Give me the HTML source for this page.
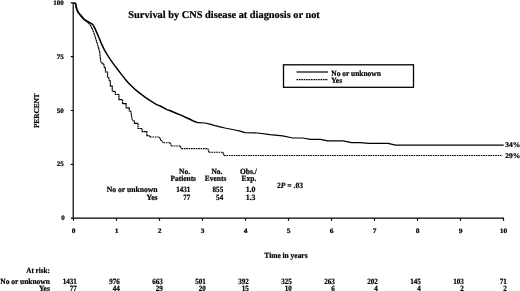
<!DOCTYPE html>
<html><head><meta charset="utf-8">
<style>
html,body{margin:0;padding:0;background:#fff;}
body{width:520px;height:291px;overflow:hidden;position:relative;}
svg{position:absolute;left:0;top:0;will-change:transform;}
text{font-family:"Liberation Serif",serif;font-weight:bold;fill:#000;stroke:#000;stroke-width:0.22px;text-rendering:geometricPrecision;}
</style></head><body>
<svg width="520" height="291" viewBox="0 0 520 291">
<g stroke="#000" stroke-width="1.2" fill="none">
<path d="M73.2 2.9V218.2H504.0"/>
<path d="M70.8 2.9H73.2M70.8 56.7H73.2M70.8 110.5H73.2M70.8 164.4H73.2M70.8 218.2H73.2"/>
<path d="M73.5 218.2V220.8M116.5 218.2V220.8M159.5 218.2V220.8M202.5 218.2V220.8M245.5 218.2V220.8M288.5 218.2V220.8M331.5 218.2V220.8M374.5 218.2V220.8M417.5 218.2V220.8M460.5 218.2V220.8M503.5 218.2V220.8"/>
</g>
<path fill="none" stroke="#000" stroke-width="1.5" stroke-linejoin="round" d="M73.5 2.9 L75.6 3.4 L76.3 6.5 L77 9.3 L78.4 12.4 L81 15.5 L84 19 L87.2 21.2 L89.1 22.2 L92.6 24.4 L94.7 27.9 L96.9 32.9 L99 37.7 L101.5 43.9 L104.3 49.6 L107 54.4 L110.4 59.6 L114 64.6 L117.5 69.3 L121 73.9 L124.6 78.4 L128 82.4 L131.5 86 L136 90.2 L140 93.4 L146 97.8 L150.2 100.7 L156.6 104.6 L160.3 106 L166.9 109.6 L170.3 110.7 L177.3 113.8 L180.3 114.9 L187.6 118.2 L190.4 119.5 L194 121.3 L197.8 122.6"/>
<path fill="none" stroke="#000" stroke-width="1.2" stroke-linejoin="round" d="M197.8 122.6 L205 123 L210 124.2 L215 125.6 L220 126.8 L225 128 L230 129 L235 130 L240 131.2 L245 132.6 L257.6 133 L270 134.6 L282.7 135.9 L292.7 138 L302.7 138 L310.3 139.4 L320.3 139.4 L327.8 140.9 L342.9 140.9 L351.7 142.6 L360 142.6 L369 143.3 L388 143.3 L395.6 145.1 L503.7 145.1"/>
<path fill="none" stroke="#000" stroke-width="1.2" stroke-dasharray="1.8 0.4" d="M73.5 2.9L75.6 3.4M75.6 3.4L75.9 6.9M75.9 6.9L76.6 9.7M76.6 9.7L78.0 12.8M78.0 12.8L80.6 15.9M80.6 15.9L83.6 19.4M83.6 19.4L86.8 21.6M86.8 21.6L88.2 22.8M88.2 22.8L90.1 24.9M90.1 24.9L92.1 28.4M92.1 28.4L93.9 33.1M93.9 33.1L95.5 37.9M95.5 37.9L97 42.7M97 42.7L98.6 48M98.6 48L99.7 52M99.7 52L100.3 58.3M100.3 58.3L101 63M101 63H102.4V63.8H103.8M103.8 63.8L104.4 67.9M104.4 67.9H105.45V72H106.5M106.5 72H107.55V77.5H108.6M108.6 77.5L109.5 81M109.5 81H110.35V86.2H111.2M111.2 86.2H112.25V91.4H113.3M113.3 91.4H115.35V94.5H117.4M117.4 94.5H118.95V99.6H120.5M120.5 99.6H122.55V103.7H124.6M124.6 103.7H126.15V107.9H127.7M127.7 107.9H129.25V111H130.8M130.8 111L131.8 118.2M131.8 118.2L133 121M133 121H134.5V123.4H136M136 123.4H138.05V128.5H140.1M140.1 128.5H142.15V131.6H144.2M144.2 131.6H146.8V135.7H149.4M149.4 135.7L150 137M159.5 137L160.7 139.9M160.7 139.9L163.5 142.7M170 142.7L171.4 145.9M180 145.9L181.4 148.6M207.8 148.6L209 152.2M222.8 152.2L224 155.5"/>
<path fill="none" stroke="#000" stroke-width="1.05" stroke-dasharray="1.65 0.75" d="M150 137L159.5 137M163.5 142.7L170 142.7M171.4 145.9L180 145.9M181.4 148.6L207.8 148.6M209 152.2L222.8 152.2M224 155.5L501.5 155.5"/>
<text x="128.3" y="17.7" font-size="10.35">Survival by CNS disease at diagnosis or not</text>
<text transform="translate(63.8,5.0) scale(1.03,1)" font-size="6.8" text-anchor="end" >100</text>
<text transform="translate(63.8,58.824999999999996) scale(1.03,1)" font-size="6.8" text-anchor="end" >75</text>
<text transform="translate(63.8,112.64999999999999) scale(1.03,1)" font-size="6.8" text-anchor="end" >50</text>
<text transform="translate(63.8,166.475) scale(1.03,1)" font-size="6.8" text-anchor="end" >25</text>
<text transform="translate(64.8,220.29999999999998) scale(1.03,1)" font-size="6.8" text-anchor="end" >0</text>
<text transform="translate(39.4,128.1) rotate(-90) scale(0.96,1)" font-size="7.6">PERCENT</text>
<text transform="translate(73.5,232.8) scale(1.1,1)" font-size="6.8" text-anchor="middle" >0</text>
<text transform="translate(116.5,232.8) scale(1.1,1)" font-size="6.8" text-anchor="middle" >1</text>
<text transform="translate(159.5,232.8) scale(1.1,1)" font-size="6.8" text-anchor="middle" >2</text>
<text transform="translate(202.5,232.8) scale(1.1,1)" font-size="6.8" text-anchor="middle" >3</text>
<text transform="translate(245.5,232.8) scale(1.1,1)" font-size="6.8" text-anchor="middle" >4</text>
<text transform="translate(288.5,232.8) scale(1.1,1)" font-size="6.8" text-anchor="middle" >5</text>
<text transform="translate(331.5,232.8) scale(1.1,1)" font-size="6.8" text-anchor="middle" >6</text>
<text transform="translate(374.5,232.8) scale(1.1,1)" font-size="6.8" text-anchor="middle" >7</text>
<text transform="translate(417.5,232.8) scale(1.1,1)" font-size="6.8" text-anchor="middle" >8</text>
<text transform="translate(460.5,232.8) scale(1.1,1)" font-size="6.8" text-anchor="middle" >9</text>
<text transform="translate(503.5,232.8) scale(1.1,1)" font-size="6.8" text-anchor="middle" >10</text>
<text transform="translate(264.3,257.7) scale(0.93,1)" font-size="8.0" text-anchor="start" >Time in years</text>
<rect x="283.5" y="64.8" width="130" height="22.5" fill="none" stroke="#000" stroke-width="1.3"/>
<path d="M296.5 72H328" stroke="#000" stroke-width="1.2"/>
<path d="M296.5 79.6H328" stroke="#000" stroke-width="1.05" stroke-dasharray="1.65 0.75"/>
<text transform="translate(331.3,75.6) scale(0.93,1)" font-size="8.0" text-anchor="start" >No or unknown</text>
<text transform="translate(331.3,83) scale(0.93,1)" font-size="8.0" text-anchor="start" >Yes</text>
<text transform="translate(505.3,147.4) scale(1.06,1)" font-size="7.1" text-anchor="start" >34%</text>
<text transform="translate(505.3,157.7) scale(1.06,1)" font-size="7.1" text-anchor="start" >29%</text>
<text transform="translate(184.6,173.8) scale(0.93,1)" font-size="8.0" text-anchor="middle" >No.</text>
<text transform="translate(183.2,180.8) scale(0.93,1)" font-size="8.0" text-anchor="middle" >Patients</text>
<text transform="translate(216.9,173.8) scale(0.93,1)" font-size="8.0" text-anchor="middle" >No.</text>
<text transform="translate(215.6,180.8) scale(0.93,1)" font-size="8.0" text-anchor="middle" >Events</text>
<text transform="translate(248.4,173.8) scale(0.93,1)" font-size="8.0" text-anchor="middle" >Obs./</text>
<text transform="translate(248.9,180.8) scale(0.93,1)" font-size="8.0" text-anchor="middle" >Exp.</text>
<text transform="translate(190.4,192.4) scale(0.885,1)" font-size="8.0" text-anchor="end" >1431</text>
<text transform="translate(190.4,200) scale(0.885,1)" font-size="8.0" text-anchor="end" >77</text>
<text transform="translate(223.2,192.4) scale(0.885,1)" font-size="8.0" text-anchor="end" >855</text>
<text transform="translate(223.2,200) scale(0.885,1)" font-size="8.0" text-anchor="end" >54</text>
<text transform="translate(255.5,192.4) scale(0.98,1)" font-size="8.0" text-anchor="end" >1.0</text>
<text transform="translate(255.5,200) scale(0.98,1)" font-size="8.0" text-anchor="end" >1.3</text>
<text transform="translate(157.6,192.4) scale(0.955,1)" font-size="8.0" text-anchor="end" >No or unknown</text>
<text transform="translate(157.6,200) scale(0.96,1)" font-size="8.0" text-anchor="end" >Yes</text>
<text transform="translate(277,188.2) scale(0.945,1)" font-size="8.0" text-anchor="start" >2<tspan font-style="italic">P</tspan> = .03</text>
<text transform="translate(49.8,272.5) scale(0.89,1)" font-size="8.0" text-anchor="end" >At risk:</text>
<text transform="translate(49.8,283.7) scale(0.93,1)" font-size="8.0" text-anchor="end" >No or unknown</text>
<text transform="translate(49.8,291.2) scale(0.93,1)" font-size="8.0" text-anchor="end" >Yes</text>
<text transform="translate(76.9,283.7) scale(0.885,1)" font-size="8.0" text-anchor="end" >1431</text>
<text transform="translate(76.9,291.2) scale(0.885,1)" font-size="8.0" text-anchor="end" >77</text>
<text transform="translate(119.9,283.7) scale(0.885,1)" font-size="8.0" text-anchor="end" >976</text>
<text transform="translate(119.9,291.2) scale(0.885,1)" font-size="8.0" text-anchor="end" >44</text>
<text transform="translate(162.9,283.7) scale(0.885,1)" font-size="8.0" text-anchor="end" >663</text>
<text transform="translate(162.9,291.2) scale(0.885,1)" font-size="8.0" text-anchor="end" >29</text>
<text transform="translate(205.9,283.7) scale(0.885,1)" font-size="8.0" text-anchor="end" >501</text>
<text transform="translate(205.9,291.2) scale(0.885,1)" font-size="8.0" text-anchor="end" >20</text>
<text transform="translate(248.9,283.7) scale(0.885,1)" font-size="8.0" text-anchor="end" >392</text>
<text transform="translate(248.9,291.2) scale(0.885,1)" font-size="8.0" text-anchor="end" >15</text>
<text transform="translate(291.9,283.7) scale(0.885,1)" font-size="8.0" text-anchor="end" >325</text>
<text transform="translate(291.9,291.2) scale(0.885,1)" font-size="8.0" text-anchor="end" >10</text>
<text transform="translate(334.9,283.7) scale(0.885,1)" font-size="8.0" text-anchor="end" >263</text>
<text transform="translate(334.9,291.2) scale(0.885,1)" font-size="8.0" text-anchor="end" >6</text>
<text transform="translate(377.9,283.7) scale(0.885,1)" font-size="8.0" text-anchor="end" >202</text>
<text transform="translate(377.9,291.2) scale(0.885,1)" font-size="8.0" text-anchor="end" >4</text>
<text transform="translate(420.9,283.7) scale(0.885,1)" font-size="8.0" text-anchor="end" >145</text>
<text transform="translate(420.9,291.2) scale(0.885,1)" font-size="8.0" text-anchor="end" >4</text>
<text transform="translate(463.9,283.7) scale(0.885,1)" font-size="8.0" text-anchor="end" >103</text>
<text transform="translate(463.9,291.2) scale(0.885,1)" font-size="8.0" text-anchor="end" >2</text>
<text transform="translate(506.9,283.7) scale(0.885,1)" font-size="8.0" text-anchor="end" >71</text>
<text transform="translate(506.9,291.2) scale(0.885,1)" font-size="8.0" text-anchor="end" >2</text>
</svg>
</body></html>
